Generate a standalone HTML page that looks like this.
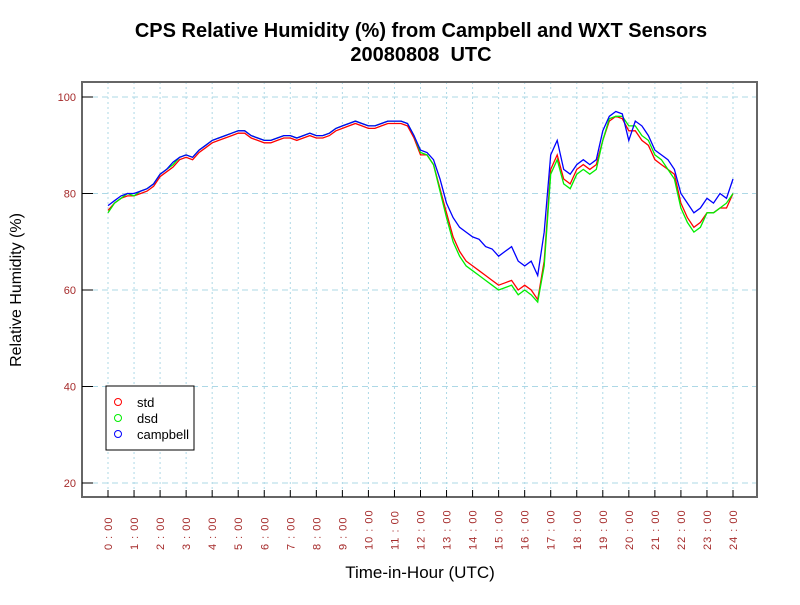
<!DOCTYPE html>
<html><head><meta charset="utf-8"><style>
body{margin:0;background:#fff;font-family:"Liberation Sans",sans-serif}
</style></head><body>
<svg id="chart" width="800" height="600" xmlns="http://www.w3.org/2000/svg" font-family="Liberation Sans, sans-serif">
<rect width="800" height="600" fill="#fff"/>
<text x="421" y="37" text-anchor="middle" font-size="20" font-weight="bold">CPS Relative Humidity (%) from Campbell and WXT Sensors</text>
<text x="421" y="61" text-anchor="middle" font-size="20" font-weight="bold" xml:space="preserve">20080808  UTC</text>
<g id="grid"></g>
<g id="series"></g>
<rect x="82" y="82" width="675" height="415" fill="none" stroke="#666" stroke-width="2"/>
<g id="axes"></g>
<text transform="translate(21,290) rotate(-90)" text-anchor="middle" font-size="16">Relative Humidity (%)</text>
<text x="420" y="578" text-anchor="middle" font-size="17">Time-in-Hour (UTC)</text>
<g>
<rect x="106" y="386" width="88" height="64" fill="#fff" stroke="#000"/>
<circle cx="118" cy="402" r="3.5" fill="none" stroke="#f00"/><text x="137" y="407" font-size="13">std</text>
<circle cx="118" cy="418" r="3.5" fill="none" stroke="#0e0"/><text x="137" y="423" font-size="13">dsd</text>
<circle cx="118" cy="434" r="3.5" fill="none" stroke="#00f"/><text x="137" y="439" font-size="13">campbell</text>
</g>
</svg>
<script>
const yTicks=[20,40,60,80,100];
const xTickLabels=["0:00","1:00","2:00","3:00","4:00","5:00","6:00","7:00","8:00","9:00","10:00","11:00","12:00","13:00","14:00","15:00","16:00","17:00","18:00","19:00","20:00","21:00","22:00","23:00","24:00"];
const campbell=[77.5,78.5,79.5,80, 80,80.5,81,82, 84,85,86.5,87.5, 88,87.5,89,90, 91,91.5,92,92.5, 93,93,92,91.5, 91,91,91.5,92, 92,91.5,92,92.5, 92,92,92.5,93.5, 94,94.5,95,94.5, 94,94,94.5,95, 95,95,94.5,92, 89,88.5,87,83, 78,75,73,72, 71,70.5,69,68.5, 67,68,69,66, 65,66,63,72, 88,91,85,84, 86,87,86,87, 93,96,97,96.5, 91,95,94,92, 89,88,87,85, 80,78,76,77, 79,78,80,79, 83];
const std=[76.5,78,79,79.5, 79.5,80,80.5,81.5, 83.5,84.5,85.5,87, 87.5,87,88.5,89.5, 90.5,91,91.5,92, 92.5,92.5,91.5,91, 90.5,90.5,91,91.5, 91.5,91,91.5,92, 91.5,91.5,92,93, 93.5,94,94.5,94, 93.5,93.5,94,94.5, 94.5,94.5,94,91.5, 88,88,86,81, 76,71,68,66, 65,64,63,62, 61,61.5,62,60, 61,60,58,66, 85,88,83,82, 85,86,85,86, 91,95,96,95.5, 93,93,91,90, 87,86,85,84, 78,75,73,74, 76,76,77,77, 80];
const dsd=[76,78,79,80, 79.5,80.5,81,82, 84,85,86,87.5, 88,87.5,89,90, 91,91.5,92,92.5, 93,93,92,91.5, 91,91,91.5,92, 92,91.5,92,92.5, 92,92,92.5,93.5, 94,94.5,95,94.5, 94,94,94.5,95, 95,95,94.5,92, 88.5,88,86,80.5, 75,70,67,65, 64,63,62,61, 60,60.5,61,59, 60,59,57.5,65, 84,87,82,81, 84,85,84,85, 91,95.5,96,96, 94,94,92,91, 88,87,85,83, 77,74,72,73, 76,76,77,78, 80];
const X0=108,X1=733,Y0=483,Y1=97;
const xs=h=>X0+(X1-X0)*h/24, ys=v=>Y0-(Y0-Y1)*(v-20)/80;
const NS="http://www.w3.org/2000/svg";
function mk(tag,parent,attrs){const e=document.createElementNS(NS,tag);for(const k in attrs)e.setAttribute(k,attrs[k]);document.getElementById(parent).appendChild(e);return e;}
yTicks.forEach(v=>{
 const g=mk('line','grid',{x1:82,x2:757,y1:ys(v),y2:ys(v),stroke:'#add8e6','stroke-dasharray':'6,4'});
 
 
 const t=mk('line','axes',{x1:82,x2:93,y1:ys(v),y2:ys(v),stroke:'#000'});
 
 
 const l=mk('text','axes',{x:76,y:ys(v)+4,'text-anchor':'end','font-size':11,fill:'#a52a2a'});
 l.textContent=v;
 
 
});
xTickLabels.forEach((s,i)=>{
 const x=xs(i);
 const g=mk('line','grid',{x1:x,x2:x,y1:82,y2:497,stroke:'#add8e6','stroke-dasharray':'2,3'});
 
 
 const t=mk('line','axes',{x1:x,x2:x,y1:490,y2:497,stroke:'#000'});
 
 
 const l=mk('text','axes',{transform:`translate(${x+4},${550}) rotate(-90)`,'font-size':11,fill:'#a52a2a','letter-spacing':'1'});
 l.textContent=s.replace(':',' : ');
 
 
});
[[std,'#f00','std-line'],[dsd,'#0e0','dsd-line'],[campbell,'#00f','campbell-line']].forEach(([d,c,n])=>{
 const pts=d.map((v,i)=>xs(i*24/(d.length-1)).toFixed(1)+','+ys(v).toFixed(1)).join(' ');
 const p=mk('polyline','series',{points:pts,fill:'none',stroke:c,'stroke-width':1.3});
 
 
});
</script>
</body></html>
